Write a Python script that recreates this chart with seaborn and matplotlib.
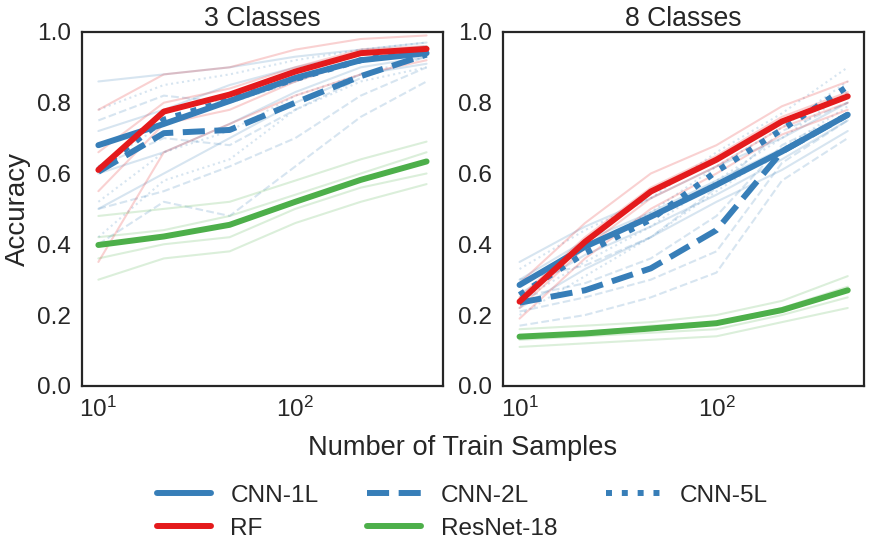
import numpy as np
import pandas as pd
import matplotlib
matplotlib.use('Agg')
import matplotlib.pyplot as plt
from matplotlib.lines import Line2D
import seaborn as sns

sns.set_theme(style='white', context='poster', font_scale=0.8)
plt.rcParams['font.family'] = ['Liberation Sans', 'DejaVu Sans']
plt.rcParams['mathtext.fontset'] = 'custom'
plt.rcParams['mathtext.rm'] = 'Liberation Sans'
plt.rcParams['axes.edgecolor'] = '#262626'

# Number of training samples (log-spaced)
samples = [10, 21.5, 46.4, 100, 215, 464]
models = ['CNN-1L', 'CNN-2L', 'CNN-5L', 'RF', 'ResNet-18']
colors = {'CNN-1L': '#377eb8', 'CNN-2L': '#377eb8', 'CNN-5L': '#377eb8',
          'RF': '#e41a1c', 'ResNet-18': '#4daf4a'}
dashes = {'CNN-1L': '', 'CNN-2L': (3.7, 1.6), 'CNN-5L': (1, 1.65),
          'RF': '', 'ResNet-18': ''}
styles = {'CNN-1L': '-', 'CNN-2L': '--', 'CNN-5L': ':', 'RF': '-', 'ResNet-18': '-'}

# mean accuracy, 3 classes
mean3_cnn1 = [0.68, 0.74, 0.805, 0.87, 0.92, 0.94]
mean3_cnn2 = [0.605, 0.714, 0.723, 0.80, 0.875, 0.936]
mean3_cnn5 = [0.61, 0.752, 0.808, 0.867, 0.92, 0.95]
mean3_rf = [0.61, 0.775, 0.823, 0.888, 0.94, 0.952]
mean3_resnet = [0.398, 0.422, 0.455, 0.52, 0.582, 0.634]

# mean accuracy, 8 classes
mean8_cnn1 = [0.285, 0.393, 0.478, 0.568, 0.662, 0.766]
mean8_cnn2 = [0.235, 0.27, 0.332, 0.44, 0.662, 0.766]
mean8_cnn5 = [0.257, 0.375, 0.47, 0.606, 0.724, 0.846]
mean8_rf = [0.238, 0.407, 0.549, 0.639, 0.747, 0.818]
mean8_resnet = [0.139, 0.148, 0.162, 0.177, 0.214, 0.27]

# individual runs (faint lines), 3 classes
runs3_cnn1 = [[0.86, 0.88, 0.90, 0.93, 0.95, 0.97],
              [0.72, 0.78, 0.85, 0.90, 0.94, 0.96],
              [0.60, 0.66, 0.74, 0.83, 0.90, 0.93],
              [0.50, 0.60, 0.70, 0.80, 0.88, 0.91]]
runs3_cnn2 = [[0.75, 0.82, 0.80, 0.86, 0.92, 0.96],
              [0.62, 0.70, 0.68, 0.78, 0.87, 0.93],
              [0.50, 0.55, 0.62, 0.70, 0.82, 0.90],
              [0.40, 0.52, 0.48, 0.62, 0.76, 0.86]]
runs3_cnn5 = [[0.78, 0.85, 0.88, 0.92, 0.95, 0.97],
              [0.62, 0.74, 0.80, 0.86, 0.92, 0.95],
              [0.52, 0.66, 0.72, 0.82, 0.88, 0.93],
              [0.42, 0.58, 0.64, 0.78, 0.86, 0.90]]
runs3_rf = [[0.78, 0.88, 0.90, 0.95, 0.98, 0.99],
            [0.66, 0.80, 0.84, 0.90, 0.95, 0.96],
            [0.55, 0.74, 0.78, 0.86, 0.92, 0.94],
            [0.35, 0.66, 0.74, 0.82, 0.88, 0.92]]
runs3_resnet = [[0.48, 0.50, 0.52, 0.58, 0.64, 0.69],
                [0.42, 0.44, 0.48, 0.54, 0.60, 0.66],
                [0.36, 0.40, 0.42, 0.50, 0.56, 0.60],
                [0.30, 0.36, 0.38, 0.46, 0.52, 0.57]]

# individual runs (faint lines), 8 classes
runs8_cnn1 = [[0.35, 0.45, 0.53, 0.62, 0.70, 0.80],
              [0.30, 0.41, 0.49, 0.58, 0.67, 0.77],
              [0.26, 0.37, 0.45, 0.54, 0.64, 0.75],
              [0.22, 0.33, 0.42, 0.52, 0.61, 0.72]]
runs8_cnn2 = [[0.30, 0.34, 0.42, 0.56, 0.72, 0.80],
              [0.25, 0.29, 0.36, 0.48, 0.68, 0.77],
              [0.21, 0.25, 0.30, 0.38, 0.63, 0.75],
              [0.17, 0.20, 0.25, 0.32, 0.58, 0.70]]
runs8_cnn5 = [[0.33, 0.44, 0.53, 0.66, 0.77, 0.90],
              [0.28, 0.39, 0.49, 0.62, 0.73, 0.86],
              [0.24, 0.35, 0.45, 0.58, 0.70, 0.83],
              [0.20, 0.31, 0.42, 0.55, 0.67, 0.79]]
runs8_rf = [[0.29, 0.46, 0.60, 0.68, 0.79, 0.86],
            [0.25, 0.42, 0.56, 0.65, 0.76, 0.83],
            [0.22, 0.39, 0.53, 0.62, 0.73, 0.80],
            [0.19, 0.36, 0.50, 0.60, 0.71, 0.78]]
runs8_resnet = [[0.16, 0.17, 0.18, 0.20, 0.24, 0.31],
                [0.14, 0.15, 0.17, 0.18, 0.22, 0.28],
                [0.13, 0.14, 0.15, 0.16, 0.20, 0.25],
                [0.11, 0.12, 0.13, 0.14, 0.18, 0.22]]

panels = {
    '3 Classes': ([mean3_cnn1, mean3_cnn2, mean3_cnn5, mean3_rf, mean3_resnet],
                  [runs3_cnn1, runs3_cnn2, runs3_cnn5, runs3_rf, runs3_resnet]),
    '8 Classes': ([mean8_cnn1, mean8_cnn2, mean8_cnn5, mean8_rf, mean8_resnet],
                  [runs8_cnn1, runs8_cnn2, runs8_cnn5, runs8_rf, runs8_resnet]),
}

mean_rows, run_rows = [], []
for title, (means, runs) in panels.items():
    for m, vals in zip(models, means):
        for x, y in zip(samples, vals):
            mean_rows.append({'panel': title, 'model': m, 'samples': x, 'acc': y})
    for m, rs in zip(models, runs):
        for i, r in enumerate(rs):
            for x, y in zip(samples, r):
                run_rows.append({'panel': title, 'model': m, 'run': i, 'samples': x, 'acc': y})
mean_df = pd.DataFrame(mean_rows)
run_df = pd.DataFrame(run_rows)

fig = plt.figure(figsize=(8.72, 5.6), dpi=100)
axes = [fig.add_axes([0.094, 0.311, 0.414, 0.632]),
        fig.add_axes([0.577, 0.311, 0.414, 0.632])]

for ax, title in zip(axes, panels):
    rd = run_df[run_df['panel'] == title]
    for m in models:
        sns.lineplot(data=rd[rd['model'] == m], x='samples', y='acc', units='run',
                     estimator=None, color=colors[m], alpha=0.2, lw=1.5,
                     ax=ax, legend=False, linestyle=styles[m])
    md = mean_df[mean_df['panel'] == title]
    sns.lineplot(data=md, x='samples', y='acc', hue='model', style='model',
                 palette=colors, dashes=dashes, hue_order=models, style_order=models,
                 lw=4.3, ax=ax, legend=False)
    ax.set_xscale('log')
    ax.set_ylim(0, 1)
    ax.set_yticks([0, 0.2, 0.4, 0.6, 0.8, 1.0])
    ax.set_title(title, pad=4)
    ax.set_xlabel('')
    ax.set_ylabel('')
    for s in ax.spines.values():
        s.set_linewidth(1.6)
    ax.tick_params(length=0, pad=8)

axes[0].set_ylabel('Accuracy', fontsize=20)
fig.text(0.531, 0.2, 'Number of Train Samples', ha='center', va='center', fontsize=19.6)

order = ['CNN-1L', 'RF', 'CNN-2L', 'ResNet-18', 'CNN-5L']
handles = [Line2D([], [], color=colors[m], lw=4.3, linestyle=styles[m]) for m in order]
fig.legend(handles, order, ncol=3, loc='center', bbox_to_anchor=(0.53, 0.085),
           frameon=False, handlelength=2.2, handletextpad=0.8, columnspacing=2.0,
           labelspacing=0.45)

fig.savefig('out.png', dpi=100)
